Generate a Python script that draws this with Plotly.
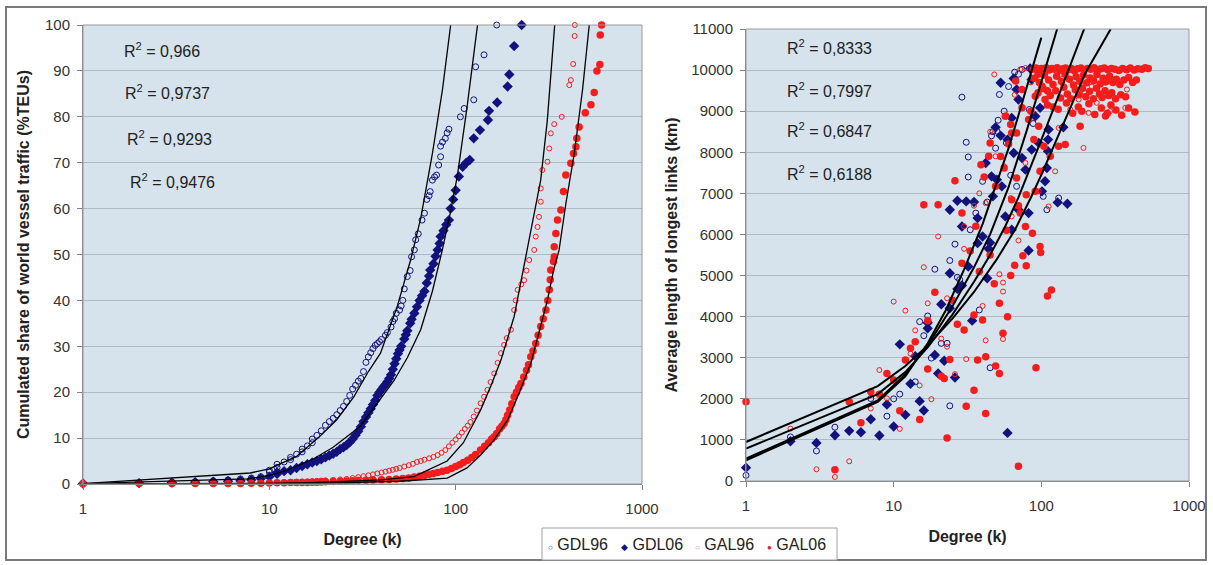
import plotly.graph_objects as go

# ---------------- DATA ----------------
# Left panel: cumulated share of world vessel traffic (%) vs degree k
gdl96_left = [(1,0.1),(2,0.2),(3,0.4),(4,0.5),(5,0.7),(6,0.9),(7,1.1),(8,1.3),(9,1.6),(10,2.6),(10,3.0),(11,3.6),(11,4.3),(12,4.8),(13,5.3),(13,5.8),(14,6.5),(15,7.0),(15,7.6),(16,8.3),(17,9.0),(17,9.8),(18,10.6),(19,11.6),(20,12.8),(21,13.6),(22,14.3),(23,15.1),(24,16.0),(25,16.9),(26,18.0),(27,19.3),(28,20.7),(29,21.5),(30,22.4),(31,23.0),(32,24.5),(33,26.5),(34,27.7),(35,28.6),(36,29.5),(37,30.2),(38,30.6),(39,31.0),(40,31.5),(42,32.4),(43,33.0),(45,34.2),(46,35.4),(47,36.0),(48,37.2),(50,37.9),(51,38.8),(52,40.0),(53,42.5),(55,45.2),(57,46.5),(58,49.5),(60,51.0),(61,53.2),(63,54.5),(66,57.5),(68,59.0),(70,62.0),(72,62.8),(73,63.7),(75,66.2),(77,66.9),(79,67.3),(81,69.5),(83,71.3),(83,73.6),(85,74.5),(88,75.3),(90,76.5),(92,77.3),(106,80.0),(111,81.8),(125,83.7),(128,90.9),(142,93.5),(166,100)]
gdl06_left = [(1,0.1),(2,0.2),(3,0.3),(4,0.4),(5,0.5),(6,0.6),(7,0.7),(8,0.9),(9,1.2),(10,1.6),(11,2.2),(11,2.5),(12,2.8),(13,3.0),(14,3.5),(15,3.9),(16,4.3),(17,4.7),(18,5.0),(19,5.4),(20,5.8),(21,6.2),(22,6.6),(23,7.0),(24,7.6),(25,8.0),(26,8.5),(27,9.1),(28,9.8),(29,10.6),(30,11.5),(31,12.5),(32,13.6),(33,14.6),(34,15.5),(35,16.4),(36,17.3),(37,18.2),(38,19.3),(39,20.0),(40,20.6),(41,21.2),(42,21.7),(43,22.3),(44,23.0),(45,23.8),(46,25.0),(47,26.2),(48,27.3),(49,28.4),(50,29.2),(51,30.0),(53,31.6),(54,32.5),(55,33.4),(57,35.0),(58,35.9),(60,37.2),(62,38.6),(64,40.0),(66,41.0),(68,42.0),(70,43.8),(72,45.3),(73,46.6),(76,48.0),(78,49.6),(80,51.0),(82,52.4),(83,53.9),(86,55.2),(89,56.5),(92,57.5),(94,60.0),(97,62.0),(100,64.0),(104,67.0),(109,69.1),(114,70.0),(119,70.6),(125,75.3),(135,77.1),(149,79.3),(151,81.3),(167,83.1),(190,86.6),(194,89.2),(206,95.4),(226,100)]
gal96_left = [(1,0.0),(2,0.0),(3,0.05),(4,0.1),(5,0.1),(6,0.15),(7,0.2),(8,0.2),(9,0.25),(10,0.3),(11,0.35),(12,0.4),(13,0.45),(14,0.5),(15,0.55),(16,0.6),(17,0.65),(18,0.7),(19,0.75),(20,0.8),(22,0.9),(24,1.0),(26,1.1),(28,1.3),(30,1.5),(32,1.7),(34,1.9),(36,2.1),(38,2.3),(40,2.5),(42,2.7),(44,2.9),(46,3.1),(48,3.3),(50,3.5),(53,3.8),(56,4.1),(59,4.4),(62,4.8),(65,5.0),(68,5.3),(72,5.6),(76,5.9),(80,6.3),(84,6.8),(88,7.4),(92,8.2),(96,9.0),(100,9.7),(104,10.4),(108,11.2),(112,12.0),(116,12.7),(120,13.5),(125,14.7),(130,16.0),(136,17.6),(142,19.0),(148,20.5),(154,22.2),(161,24.1),(168,26.4),(175,28.5),(182,30.3),(188,31.8),(198,33.6),(206,37.9),(210,40.0),(215,42.3),(225,43.5),(233,44.4),(240,46.5),(248,48.8),(264,51.0),(269,53.9),(275,56.0),(280,58.2),(286,61.5),(286,64.4),(292,68.4),(311,70.2),(318,73.1),(324,76.4),(338,78.4),(371,80.0),(407,86.9),(415,88.0),(427,91.5),(435,97.6),(436,100)]
gal06_left = [(1,0.05),(2,0.1),(3,0.1),(4,0.1),(5,0.1),(6,0.1),(7,0.1),(8,0.15),(9,0.15),(10,0.2),(11,0.25),(12,0.25),(13,0.3),(14,0.3),(15,0.35),(16,0.35),(17,0.4),(18,0.4),(19,0.45),(20,0.5),(22,0.55),(24,0.6),(26,0.65),(28,0.7),(30,0.75),(33,0.8),(36,0.85),(40,0.9),(44,1.0),(48,1.1),(52,1.2),(56,1.3),(60,1.5),(64,1.7),(68,1.9),(72,2.1),(76,2.3),(80,2.5),(85,2.8),(90,3.0),(95,3.4),(100,3.8),(105,4.2),(110,4.7),(116,5.2),(122,5.8),(128,6.4),(136,7.4),(143,8.2),(150,9.0),(156,9.8),(161,10.3),(166,11.0),(172,12.0),(177,12.6),(182,13.2),(186,14.0),(190,15.0),(195,16.1),(200,17.5),(206,19.0),(212,20.0),(218,21.0),(224,21.9),(232,23.3),(240,24.8),(246,26.0),(253,27.7),(260,29.0),(269,30.6),(277,32.4),(286,34.3),(295,36.0),(305,37.9),(312,40.0),(318,42.3),(322,44.5),(324,46.6),(335,48.5),(338,49.5),(338,51.7),(345,54.6),(352,57.5),(367,59.7),(379,63.7),(390,67.3),(415,69.9),(429,72.0),(442,73.5),(447,75.3),(460,77.8),(496,80.9),(532,82.6),(554,85.3),(573,90.0),(594,91.4),(597,97.8),(607,100)]

# Left panel trend lines (as drawn in the picture)
fit_gdl96_left = [(1,0.1),(7.9,2.4),(10,3.3),(11.5,4.4),(14,6.0),(18.8,10.5),(23,14.0),(28.4,19.0),(34,24.5),(39.5,28.5),(48.5,38.6),(57.3,48.8),(65,58),(75,72),(85,86),(94,100)]
fit_gdl06_left = [(1,0.1),(7.6,1.1),(10,1.9),(12.5,3.0),(17.3,5.5),(22,8.0),(30.8,12.6),(38,17.5),(46.6,22.5),(55,27.5),(64.9,33.6),(75,42),(84.8,51),(93,58.5),(102,67),(115,82),(131,100)]
fit_gal96_left = [(1,0.0),(10,0.1),(20,0.4),(40,0.9),(59.7,1.6),(90,5.0),(110,9.0),(136,16.1),(155,21.5),(175,27.0),(206,36.5),(238,49.5),(260,57.5),(286,66.2),(310,79),(340,100)]
fit_gal06_left = [(1,0.0),(20,0.2),(50,0.6),(90.2,1.3),(115,3.5),(136,6.3),(160,9.5),(190,13.9),(220,20.0),(253,26.3),(280,33.0),(311,40.1),(335,46.5),(359,51),(390,61),(433,72),(480,86),(521,100)]

# Right panel: average length of longest links (km) vs degree k
gdl96_right = [(1,138),(2,1073),(3,732),(4,1309),(7,2008),(9,1577),(10,2000),(11,2114),(14,2414),(15,3878),(16,3537),(17,4016),(18,2992),(19,5154),(21,3350),(23,3350),(24,1829),(24,5366),(26,5764),(27,4959),(28,4900),(38,4162),(45,2756),(29,9341),(52,9406),(31,8244),(32,7886),(32,7398),(40,7293),(51,8780),(50,8512),(74,10016),(83,9040),(103,6927),(131,6886),(109,6601),(43,6788),(58,8228),(62,7439),(68,7171),(33,6114),(36,6520),(46,8400),(47,8500),(49,8100),(56,9000),(60,9600),(66,9950),(70,9900),(88,8700)]
gdl06_right = [(1,325),(2,967),(3,927),(4,1114),(5,1220),(6,1187),(7,1504),(8,1106),(9,1862),(10,1325),(11,3325),(12,1610),(13,2366),(14,3040),(15,1943),(16,1715),(17,3715),(17,3850),(19,3065),(20,2618),(21,4300),(22,2927),(24,4203),(26,2520),(27,4675),(29,4756),(24,5057),(32,5219),(34,3902),(43,4935),(59,1170),(82,5610),(37,5788),(44,5650),(24,6601),(27,6821),(31,6805),(35,6788),(29,6195),(37,6398),(47,6927),(42,7740),(46,7414),(50,7333),(54,7171),(49,8610),(53,8406),(63,8837),(59,8309),(65,7984),(74,7862),(86,8065),(78,7577),(109,7618),(111,8024),(111,8309),(106,7293),(101,7049),(129,6780),(150,6748),(141,8610),(53,9691),(65,9797),(68,9528),(70,9284),(84,10040),(86,9772),(98,9081),(91,8878),(96,8228),(112,8553),(57,6439),(63,6114),(70,6601),(82,6520),(40,5950),(45,5800)]
gal96_right = [(2,1276),(3,285),(4,98),(5,480),(7,1764),(8,2700),(10,4366),(11,1268),(12,4146),(14,3667),(15,2325),(16,5203),(17,4325),(18,1992),(21,3463),(23,4447),(23,3268),(31,2967),(40,4260),(42,3423),(52,5032),(55,4829),(55,4610),(55,3455),(70,5853),(20,5951),(48,9894),(72,10016),(78,10050),(380,9528),(193,8106),(209,8959),(292,8999),(370,9081),(42,6764),(49,7902),(56,7658),(62,6886),(78,7740),(96,7049),(112,6683),(63,6439),(131,8593),(124,7537),(157,9040),(179,9284),(198,9447),(237,9203),(271,9691),(13,3100),(9,2010),(26,2600),(30,6200),(35,6700),(38,7000),(45,8500),(58,8900),(66,9400),(85,9700),(100,9900),(140,9800),(220,9600),(30,5650)]
gal06_right = [(1,1927),(4,276),(5,1927),(6,1415),(7,2171),(8,2114),(9,2618),(10,2455),(11,1707),(12,2943),(13,3228),(14,3390),(15,1496),(17,2724),(19,4593),(22,2496),(23,1049),(24,2959),(27,3813),(30,3675),(31,1821),(35,2211),(35,4040),(37,2943),(40,3919),(42,1642),(42,3024),(49,2797),(52,2618),(52,4325),(59,4000),(55,3593),(70,358),(75,5480),(79,5236),(92,2756),(110,4504),(117,4650),(98,5707),(99,5561),(17,3900),(21,2550),(25,4400),(29,5300),(33,5600),(38,5100),(45,5500),(48,4800),(62,5000),(66,5250),
               (16,6724),(20,6724),(26,7309),(29,6520),(39,7699),(45,8228),(44,7902),(49,7171),(56,7618),(63,6845),(68,7374),(72,6520),(78,6195),(87,6032),(79,6967),(91,7049),(98,7537),(57,8878),(62,8675),(63,8471),(68,8471),(74,9081),(82,8797),(89,8309),(96,8634),(104,8146),(115,7902),(131,8146),(145,8187),(183,8634),(91,9366),(101,9609),(106,9284),(67,9732),(74,9528),(36,6200),(41,7400),(53,7900),(60,8200),(85,9000),(120,9100),(95,9900),(110,9500),(70,6700),(58,6100),
               (88,10020),(92,10050),(96,9990),(100,10040),(104,10010),(108,10060),(113,10000),(118,10040),(123,10020),(128,10060),(134,9990),(140,10030),(146,10050),(153,10010),(160,10040),(168,9980),(176,10030),(185,10050),(195,10010),(205,10040),(216,10020),(228,10060),(240,9990),(253,10030),(267,10050),(282,10010),(298,10040),(315,10020),(335,9990),(355,10040),(378,10010),(400,10050),(425,10000),(450,10030),(480,10020),(505,10060),(530,10040),
               (90,9800),(97,9700),(105,9880),(112,9760),(120,9650),(127,9850),(137,9720),(145,9900),(155,9780),(165,9640),(172,9840),(182,9730),(193,9880),(203,9690),(214,9810),(226,9740),(238,9890),(250,9660),(262,9800),(275,9720),(290,9850),(305,9700),(322,9780),(340,9650),(362,9760),(390,9820),(415,9700),(440,9760),
               (95,9450),(103,9550),(115,9380),(125,9500),(135,9320),(142,9580),(150,9420),(158,9300),(170,9520),(180,9400),(190,9560),(200,9350),(212,9480),(225,9300),(236,9560),(248,9420),(258,9330),(270,9500),(286,9380),(300,9450),(318,9300),(345,9400),(372,9350),
               (110,9150),(130,9050),(148,9200),(163,8950),(178,9100),(188,9000),(210,9180),(230,8920),(255,9080),(280,8950),(296,9150),(320,9030),(350,8900),(390,9080),(430,8980),(272,8880)]

# Right panel trend lines (as drawn in the picture)
fit_right_a = [(1,504),(7.8,1927),(12,2550),(17,3350),(22.5,4150),(30,5150),(40,6250),(50,7250),(60,8100),(70,8900),(80,9600),(90,10230),(100,10790)]
fit_right_b = [(1,545),(7.8,1960),(12,2600),(17,3300),(25,4250),(35,5200),(45,6000),(60,7150),(80,8550),(100,9700),(115,10400),(128,11000)]
fit_right_c = [(1,789),(7.8,2114),(12,2650),(17,3250),(25,4050),(35,4850),(45,5500),(57,6200),(70,6900),(85,7650),(100,8300),(130,9350),(160,10200),(195,11000)]
fit_right_d = [(1,950),(7.8,2309),(12,2800),(17,3300),(25,3950),(35,4600),(50,5400),(66,6100),(85,6900),(100,7450),(130,8400),(160,9150),(200,9950),(250,10550),(295,11000)]

r2_left = ["0,966", "0,9737", "0,9293", "0,9476"]
r2_right = ["0,8333", "0,7997", "0,6847", "0,6188"]
series_names = ["GDL96", "GDL06", "GAL96", "GAL06"]
legend_glyphs = ["\u25cb", "\u25c6", "\u25cb", "\u25cf"]
x_tick_values = [1, 10, 100, 1000]
left_y_ticks = [0, 10, 20, 30, 40, 50, 60, 70, 80, 90, 100]
right_y_ticks = [0, 1000, 2000, 3000, 4000, 5000, 6000, 7000, 8000, 9000, 10000, 11000]

# ---------------- STYLE ----------------
W, H = 1213, 565
NAVY = "#12127e"
RED = "#f51c1c"
FONT = "Liberation Sans, Arial, sans-serif"
TXT = "#222222"

def px_x(p):
    return p / W

def px_y(p):
    return 1 - p / H

marker_styles = {
    "GDL96": dict(symbol="circle-open", size=6, color=NAVY, line=dict(width=1, color=NAVY)),
    "GDL06": dict(symbol="diamond", size=8, color=NAVY, line=dict(width=0)),
    "GAL96": dict(symbol="circle-open", size=5, color=RED, line=dict(width=1, color=RED)),
    "GAL06": dict(symbol="circle", size=7.5, color=RED, line=dict(width=0)),
}
series_colors = {"GDL96": NAVY, "GDL06": NAVY, "GAL96": "#f27a7a", "GAL06": RED}

fig = go.Figure()

left_sets = [gdl96_left, gdl06_left, gal96_left, gal06_left]
right_sets = [gdl96_right, gdl06_right, gal96_right, gal06_right]

for name, pts in zip(series_names, left_sets):
    fig.add_trace(go.Scatter(x=[p[0] for p in pts], y=[p[1] for p in pts], mode="markers",
                             name=name, marker=marker_styles[name], xaxis="x", yaxis="y",
                             cliponaxis=False, showlegend=False))
for name, pts in zip(series_names, right_sets):
    fig.add_trace(go.Scatter(x=[p[0] for p in pts], y=[p[1] for p in pts], mode="markers",
                             name=name, marker=marker_styles[name], xaxis="x2", yaxis="y2",
                             cliponaxis=False, showlegend=False))

for pts in [fit_gdl96_left, fit_gdl06_left, fit_gal96_left, fit_gal06_left]:
    fig.add_trace(go.Scatter(x=[p[0] for p in pts], y=[p[1] for p in pts], mode="lines",
                             line=dict(color="black", width=1.3), xaxis="x", yaxis="y",
                             showlegend=False, hoverinfo="skip"))
for pts in [fit_right_a, fit_right_b, fit_right_c, fit_right_d]:
    fig.add_trace(go.Scatter(x=[p[0] for p in pts], y=[p[1] for p in pts], mode="lines",
                             line=dict(color="black", width=2), xaxis="x2", yaxis="y2",
                             showlegend=False, hoverinfo="skip"))

axis_common = dict(ticks="outside", ticklen=5, tickcolor="#808080", showline=True,
                   linecolor="#808080", linewidth=1, zeroline=False, automargin=False,
                   tickfont=dict(family=FONT, size=15, color="#333333"))

xcommon = dict(axis_common, type="log", range=[0, 3], tickvals=x_tick_values,
               ticktext=[str(v) for v in x_tick_values], showgrid=False,
               ticklabelstandoff=6,
               title=dict(text="<b>Degree (k)</b>", font=dict(family=FONT, size=16, color=TXT), standoff=17))

fig.update_layout(
    width=W, height=H,
    margin=dict(l=0, r=0, t=0, b=0, autoexpand=False),
    paper_bgcolor="white",
    plot_bgcolor="#d6e3ed",
    font=dict(family=FONT, size=14, color=TXT),
    showlegend=False,
    xaxis=dict(xcommon, domain=[px_x(83), px_x(642)], anchor="y"),
    yaxis=dict(axis_common, domain=[px_y(484), px_y(25)], range=[0, 100],
               tickvals=left_y_ticks, ticktext=[str(v) for v in left_y_ticks],
               showgrid=True, gridcolor="#aeb9c1", gridwidth=1, anchor="x",
               ticklabelstandoff=4,
               title=dict(text="<b>Cumulated share of world vessel traffic (%TEUs)</b>",
                          font=dict(family=FONT, size=16, color=TXT), standoff=11)),
    xaxis2=dict(xcommon, domain=[px_x(746), px_x(1189)], anchor="y2"),
    yaxis2=dict(axis_common, domain=[px_y(481), px_y(29)], range=[0, 11000],
                tickvals=right_y_ticks, ticktext=[str(v) for v in right_y_ticks],
                showgrid=True, gridcolor="#aeb9c1", gridwidth=1, anchor="x2",
                ticklabelstandoff=4,
                title=dict(text="<b>Average length of longest links (km)</b>",
                           font=dict(family=FONT, size=16, color=TXT), standoff=9)),
)

# plot-area borders, outer frame, legend box
shapes = [
    dict(type="rect", xref="x domain", yref="y domain", x0=0, x1=1, y0=0, y1=1,
         line=dict(color="#9a9a9a", width=1), layer="above"),
    dict(type="rect", xref="x2 domain", yref="y2 domain", x0=0, x1=1, y0=0, y1=1,
         line=dict(color="#9a9a9a", width=1), layer="above"),
    dict(type="rect", xref="paper", yref="paper", x0=px_x(6), x1=px_x(1206), y0=px_y(560), y1=px_y(7),
         line=dict(color="#7a7a7a", width=2)),
    dict(type="rect", xref="paper", yref="paper", x0=px_x(542), x1=px_x(837), y0=px_y(560), y1=px_y(528),
         line=dict(color="#a0a0a0", width=1), fillcolor="white"),
]
fig.update_layout(shapes=shapes)

annotations = []
for txt, xp, yp in zip(r2_left, [122, 123, 125, 128], [50, 92, 138, 181]):
    annotations.append(dict(text="R<sup>2</sup> = " + txt, x=px_x(xp), y=px_y(yp), xref="paper", yref="paper",
                            xanchor="left", yanchor="middle", showarrow=False,
                            font=dict(family=FONT, size=16, color=TXT)))
for txt, yp in zip(r2_right, [47, 90, 130, 173]):
    annotations.append(dict(text="R<sup>2</sup> = " + txt, x=px_x(785), y=px_y(yp), xref="paper", yref="paper",
                            xanchor="left", yanchor="middle", showarrow=False,
                            font=dict(family=FONT, size=16, color=TXT)))
# legend entries (symbol + series name)
for name, glyph, xp in zip(series_names, legend_glyphs, [546, 619, 693, 765]):
    gsize = 8 if glyph != "\u25c6" else 9
    annotations.append(dict(
        text='<span style="color:%s;font-size:%dpx">%s</span> %s' % (series_colors[name], gsize, glyph, name),
        x=px_x(xp), y=px_y(544), xref="paper", yref="paper", xanchor="left", yanchor="middle",
        showarrow=False, font=dict(family=FONT, size=16, color=TXT)))
fig.update_layout(annotations=annotations)

fig.write_html("out.html", config={"displayModeBar": False})

# remove the browser's default 8px body margin so the figure sits at the page origin
with open("out.html", "r", encoding="utf-8") as fh:
    page = fh.read()
page = page.replace("<head>", "<head><style>html,body{margin:0;padding:0;overflow:hidden;}</style>", 1)
with open("out.html", "w", encoding="utf-8") as fh:
    fh.write(page)
